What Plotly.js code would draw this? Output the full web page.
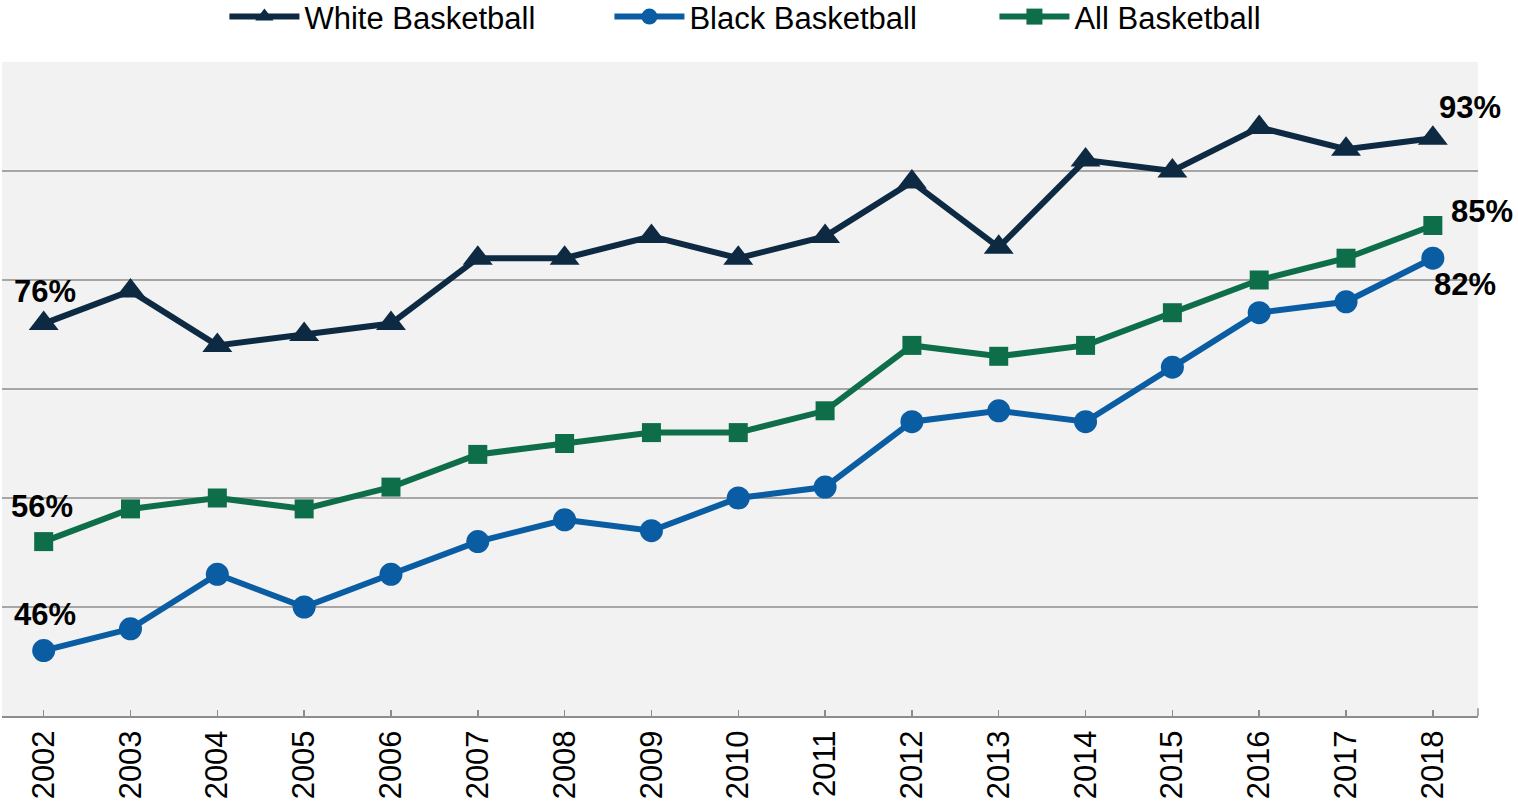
<!DOCTYPE html>
<html>
<head>
<meta charset="utf-8">
<script src="https://cdn.plot.ly/plotly-3.0.1.min.js"></script>
<style>
html,body{margin:0;padding:0;background:#fff;}
#chart{width:1518px;height:807px;}
</style>
</head>
<body>
<div id="chart"></div>
<script>
const years = [2002,2003,2004,2005,2006,2007,2008,2009,2010,2011,2012,2013,2014,2015,2016,2017,2018];
const whiteBB = [76,79,74,75,76,82,82,84,82,84,89,83,91,90,94,92,93];
const blackBB = [46,48,53,50,53,56,58,57,60,61,67,68,67,72,77,78,82];
const allBB   = [56,59,60,59,61,64,65,66,66,68,74,73,74,77,80,82,85];
const seriesNames = ["White Basketball","Black Basketball","All Basketball"];
const yTicks = [40,50,60,70,80,90,100];

const cWhite = "#0e2a42", cBlack = "#0a5ca3", cAll = "#0e6e4a";
const FONT = "Liberation Sans, Arial, sans-serif";

const traces = [
  {x: years, y: whiteBB, name: seriesNames[0], type: "scatter", mode: "lines+markers",
   line: {color: cWhite, width: 6}, marker: {symbol: "triangle-up", size: 26, color: cWhite}, cliponaxis: false},
  {x: years, y: blackBB, name: seriesNames[1], type: "scatter", mode: "lines+markers",
   line: {color: cBlack, width: 6}, marker: {symbol: "circle", size: 23, color: cBlack}, cliponaxis: false},
  {x: years, y: allBB, name: seriesNames[2], type: "scatter", mode: "lines+markers",
   line: {color: cAll, width: 6}, marker: {symbol: "square", size: 19, color: cAll}, cliponaxis: false}
];

const last = years.length - 1;
function lab(x, y, xs, ys) {
  return {x: x, y: y, xref: "x", yref: "y", text: y + "%", showarrow: false,
    xshift: xs, yshift: ys, font: {family: FONT, size: 31, color: "#000", weight: "bold"}};
}
const annotations = [
  lab(years[0], whiteBB[0], 1, 32),
  lab(years[0], allBB[0], -2, 35),
  lab(years[0], blackBB[0], 1, 36),
  lab(years[last], whiteBB[last], 37, 31),
  lab(years[last], allBB[last], 49, 14),
  lab(years[last], blackBB[last], 32, -26)
];

const layout = {
  width: 1518, height: 807,
  margin: {l: 2, r: 40, t: 62, b: 91, autoexpand: false},
  paper_bgcolor: "#ffffff",
  plot_bgcolor: "#f2f2f2",
  font: {family: FONT, color: "#000"},
  showlegend: true,
  legend: {orientation: "h", x: 0.1507, xanchor: "left", y: 0.979, yref: "container", yanchor: "middle",
    font: {family: FONT, size: 31, color: "#000"}, entrywidth: 300, entrywidthmode: "pixels",
    itemwidth: 70, bgcolor: "rgba(0,0,0,0)"},
  xaxis: {range: [2001.52, 2018.52], tickmode: "array", tickvals: years, ticktext: years.map(String),
    tickangle: -90, tickfont: {family: FONT, size: 31, color: "#000"},
    ticks: "inside", ticklen: 6, tickcolor: "#8c8c8c", tickwidth: 1.5,
    showline: true, linecolor: "#8c8c8c", linewidth: 2, showgrid: false, zeroline: false, fixedrange: true},
  yaxis: {range: [40, 100], tickvals: yTicks, showticklabels: false, showgrid: true,
    gridcolor: "#a6a6a6", gridwidth: 1.5, zeroline: false, showline: false, fixedrange: true},
  annotations: annotations,
  shapes: [
    {type: "line", xref: "paper", yref: "paper", x0: 1, x1: 1, y0: 0, y1: 0.012, line: {color: "#8c8c8c", width: 1.5}}
  ]
};

Plotly.newPlot("chart", traces, layout, {displayModeBar: false, staticPlot: true});
</script>
</body>
</html>
